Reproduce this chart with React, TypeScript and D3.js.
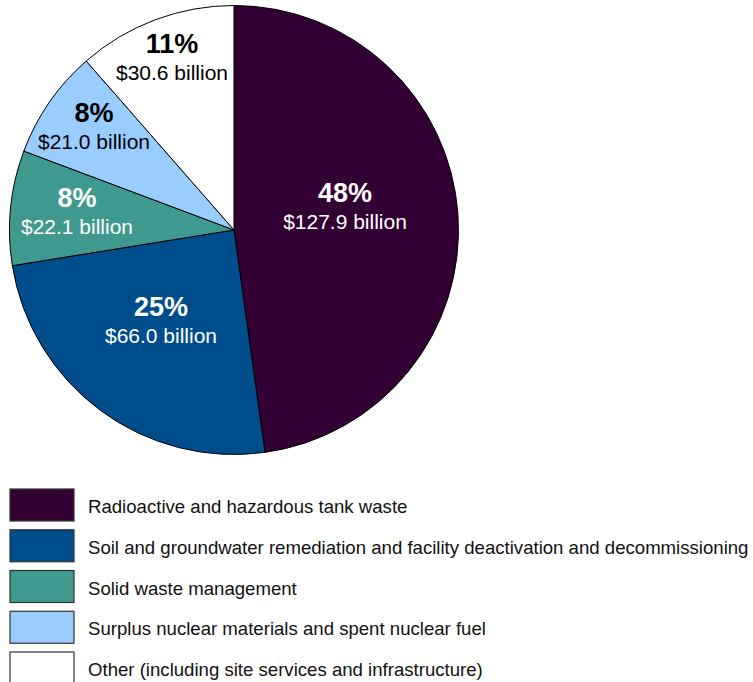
import React, { useRef, useEffect } from 'react';
import * as d3 from 'd3';

// categories and values (billions of dollars)
const categories = [
  'Radioactive and hazardous tank waste',
  'Soil and groundwater remediation and facility deactivation and decommissioning',
  'Solid waste management',
  'Surplus nuclear materials and spent nuclear fuel',
  'Other (including site services and infrastructure)',
];
const values = [127.9, 66.0, 22.1, 21.0, 30.6];
const percentLabels = ['48%', '25%', '8%', '8%', '11%'];
const colors = ['#330033', '#004d8c', '#3f998f', '#99ccff', '#ffffff'];
const labelColors = ['#ffffff', '#ffffff', '#ffffff', '#000000', '#000000'];

// label anchor positions relative to pie center (hand placed, like the source)
const labelOffsets: [number, number][] = [
  [111, -28],
  [-73, 86],
  [-157, -23],
  [-140, -108],
  [-62, -177],
];

const App = () => {
  const svgRef = useRef<SVGSVGElement>(null);

  useEffect(() => {
    const svg = d3.select(svgRef.current);
    svg.selectAll('*').remove();

    const cx = 234;
    const cy = 230;
    const radius = 224.5;

    const pie = d3.pie<number>().sort(null).value((d) => d);
    const arc = d3.arc<d3.PieArcDatum<number>>().innerRadius(0).outerRadius(radius);

    const g = svg.append('g').attr('transform', `translate(${cx},${cy})`);

    g.selectAll('path')
      .data(pie(values))
      .enter()
      .append('path')
      .attr('d', arc)
      .attr('fill', (d, i) => colors[i])
      .attr('stroke', '#000')
      .attr('stroke-width', 1);

    // slice labels
    const labels = g.selectAll('g.lbl')
      .data(values)
      .enter()
      .append('g')
      .attr('class', 'lbl')
      .attr('transform', (d, i) => `translate(${labelOffsets[i][0]},${labelOffsets[i][1]})`)
      .attr('text-anchor', 'middle')
      .style('font-family', 'Arial, "Liberation Sans", sans-serif');

    labels.append('text')
      .attr('y', 0)
      .style('font-size', '27px')
      .style('font-weight', 'bold')
      .attr('fill', (d, i) => labelColors[i])
      .text((d, i) => percentLabels[i]);

    labels.append('text')
      .attr('y', 27)
      .style('font-size', '21px')
      .attr('fill', (d, i) => labelColors[i])
      .text((d) => `$${d3.format('.1f')(d)} billion`);

    // legend
    const legendY = d3.scaleBand<number>()
      .domain(d3.range(categories.length))
      .range([489, 489 + 40.75 * categories.length])
      .paddingInner(0);

    const legend = svg.append('g')
      .selectAll('g')
      .data(categories)
      .enter()
      .append('g')
      .attr('transform', (d, i) => `translate(0,${legendY(i)})`);

    legend.append('rect')
      .attr('x', 10)
      .attr('y', 0)
      .attr('width', 64)
      .attr('height', 32)
      .attr('fill', (d, i) => colors[i])
      .attr('stroke', '#333')
      .attr('stroke-width', 1.2);

    legend.append('text')
      .attr('x', 88)
      .attr('y', 24)
      .style('font-family', 'Arial, "Liberation Sans", sans-serif')
      .style('font-size', '18.6px')
      .attr('fill', '#111')
      .text((d) => d);
  }, []);

  return <svg ref={svgRef} width={753} height={682} style={{ position: 'absolute', left: 0, top: 0 }}></svg>;
};

export default App;
